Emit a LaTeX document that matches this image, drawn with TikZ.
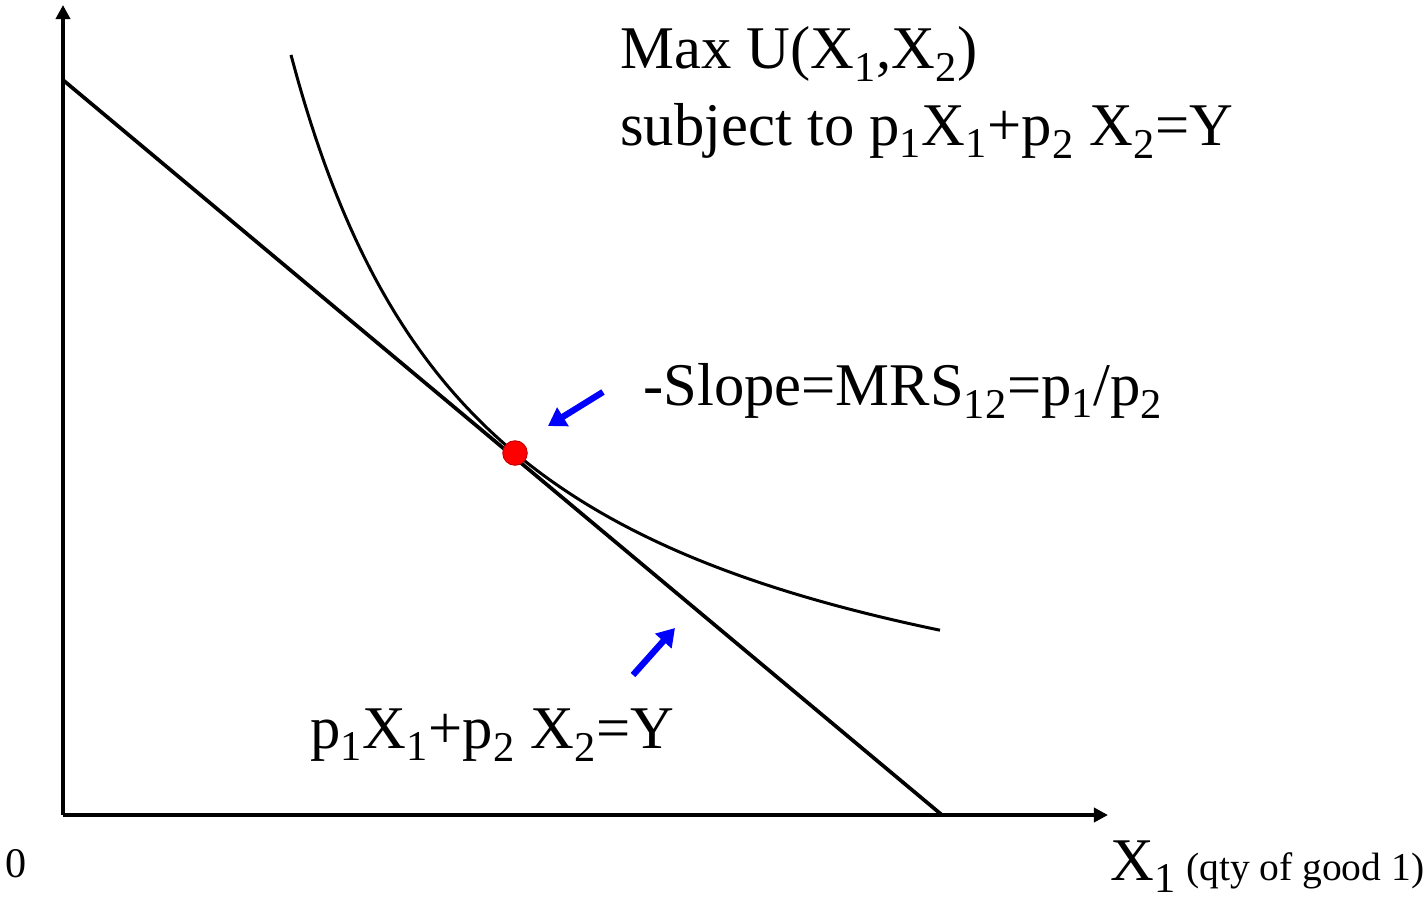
\documentclass[tikz,border=0pt]{standalone}
\usepackage{fontspec}
\setmainfont{Liberation Serif}
\usetikzlibrary{arrows.meta}
\begin{document}
\begin{tikzpicture}[x=0.02cm, y=-0.02cm,
  axis/.style={line width=2.2pt, -{Triangle[length=8pt, width=8pt]}},
  budget/.style={line width=2.1pt},
  icurve/.style={line width=1.7pt},
  pointer/.style={blue, line width=3.6pt, -{Triangle[length=10pt, width=12pt]}},
  lbl/.style={font=\fontsize{34.5}{43.6}\selectfont, anchor=base west, inner sep=0pt, align=left},
  small/.style={font=\fontsize{24}{28}\selectfont, anchor=base west, inner sep=0pt},
]
\useasboundingbox (0,0) rectangle (1424,900);

% axes and budget line
\coordinate (O) at (63,815);
\coordinate (ytip) at (63,5);
\coordinate (xtip) at (1108,815);
\coordinate (b2) at (63,80);
\coordinate (b1) at (942,815);
\draw[axis] (O) -- (ytip);
\draw[axis] (O) -- (xtip);
\draw[budget] (b2) -- (b1);

% indifference curve, tangent to the budget line at the optimum
\draw[icurve] plot[domain=291:940, samples=100, smooth] (\x, {806.6 - 1495.85/((\x-92)/100)});
\node[circle, fill=red, draw=red!75!black, line width=0.5pt, minimum size=14pt, inner sep=0pt] (opt) at (515,453) {};

% pointers
\coordinate (s1) at (603,392);
\coordinate (e1) at (548,426);
\coordinate (s2) at (633,675);
\coordinate (e2) at (675,628);
\draw[pointer] (s1) -- (e1);
\draw[pointer] (s2) -- (e2);

% labels
\node[lbl] (obj) at (620,145) {Max U(X\textsubscript{1},X\textsubscript{2})\\subject to p\textsubscript{1}X\textsubscript{1}+p\textsubscript{2} X\textsubscript{2}=Y};
\node[lbl] (mrs) at (643,405) {-Slope=MRS\textsubscript{12}=p\textsubscript{1}/p\textsubscript{2}};
\node[lbl] (bc) at (310,748) {p\textsubscript{1}X\textsubscript{1}+p\textsubscript{2} X\textsubscript{2}=Y};
\node[small] (zero) at (5,877) {0};
\node[lbl] (xlab) at (1110,880) {X\textsubscript{1}{\fontsize{22.5}{26}\selectfont\ (qty of good 1)}};
\end{tikzpicture}
\end{document}
